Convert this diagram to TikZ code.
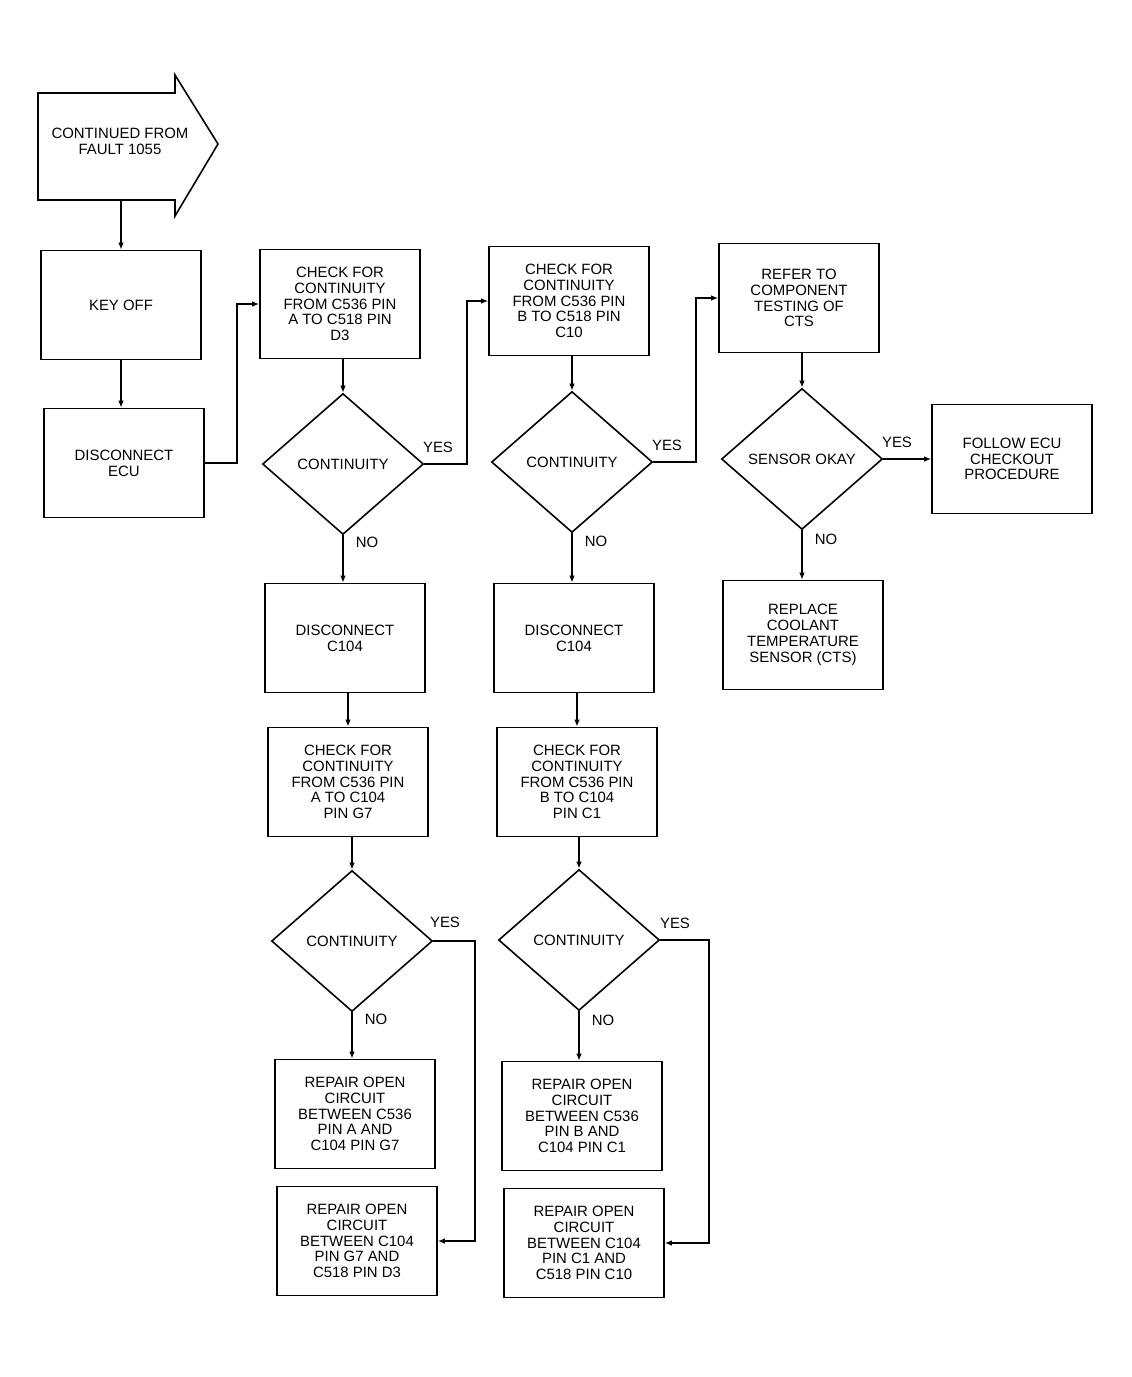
\documentclass[tikz,border=0pt]{standalone}
\usepackage{fontspec}
\setmainfont{Liberation Sans}
\usetikzlibrary{shapes.geometric,arrows.meta,calc}
\tikzset{
  txt/.style={font=\fontsize{8.5}{9}\selectfont},
  box/.style={draw, line width=0.9pt, minimum width=3.2cm, minimum height=2.18cm, inner sep=0pt, align=center, txt},
  test/.style={draw, diamond, line width=0.9pt, minimum width=3.22cm, minimum height=2.82cm, inner sep=0pt, aspect=1.14, txt},
  arrow/.style={-{Latex[length=1.4mm,width=1.1mm]}, line width=0.9pt},
  lbl/.style={inner sep=1pt, txt}
}

\begin{document}
\begin{tikzpicture}[x=0.02cm, y=-0.02cm]
  \useasboundingbox (0,0) rectangle (1132,1377);
  % entry arrow
  \draw[line width=0.9pt] (38,93) -- (175,93) -- (175,75) -- (218,144) -- (175,216) -- (175,200) -- (38,200) -- cycle;
  \node[txt, align=center] (cont) at (120,141) {CONTINUED FROM\\FAULT 1055};
  \coordinate (contout) at (121,200);

  % left column
  \node[box] (keyoff) at (121,305) {KEY OFF};
  \node[box] (discecu) at (124,463) {DISCONNECT\\ECU};

  % C536 pin A
  \node[box] (chkA) at (340,304) {CHECK FOR\\CONTINUITY\\FROM C536 PIN\\A TO C518 PIN\\D3};
  \node[test] (dA1) at (343,464) {CONTINUITY};
  \node[box] (dscA) at (345,638) {DISCONNECT\\C104};
  \node[box] (chkAG) at (348,782) {CHECK FOR\\CONTINUITY\\FROM C536 PIN\\A TO C104\\PIN G7};
  \node[test] (dA2) at (352,941) {CONTINUITY};
  \node[box] (repA1) at (355,1114) {REPAIR OPEN\\CIRCUIT\\BETWEEN C536\\PIN A AND\\C104 PIN G7};
  \node[box] (repA2) at (357,1241) {REPAIR OPEN\\CIRCUIT\\BETWEEN C104\\PIN G7 AND\\C518 PIN D3};

  % C536 pin B
  \node[box] (chkB) at (569,301) {CHECK FOR\\CONTINUITY\\FROM C536 PIN\\B TO C518 PIN\\C10};
  \node[test] (dB1) at (572,462) {CONTINUITY};
  \node[box] (dscB) at (574,638) {DISCONNECT\\C104};
  \node[box] (chkBC) at (577,782) {CHECK FOR\\CONTINUITY\\FROM C536 PIN\\B TO C104\\PIN C1};
  \node[test] (dB2) at (579,940) {CONTINUITY};
  \node[box] (repB1) at (582,1116) {REPAIR OPEN\\CIRCUIT\\BETWEEN C536\\PIN B AND\\C104 PIN C1};
  \node[box] (repB2) at (584,1243) {REPAIR OPEN\\CIRCUIT\\BETWEEN C104\\PIN C1 AND\\C518 PIN C10};

  % sensor
  \node[box] (refer) at (799,298) {REFER TO\\COMPONENT\\TESTING OF\\CTS};
  \node[test] (dS) at (802,459) {SENSOR OKAY};
  \node[box] (follow) at (1012,459) {FOLLOW ECU\\CHECKOUT\\PROCEDURE};
  \node[box] (replace) at (803,635) {REPLACE\\COOLANT\\TEMPERATURE\\SENSOR (CTS)};

  % yes / no
  \node[lbl] (yA1) at (438,447) {YES};
  \node[lbl] (nA1) at (367,542) {NO};
  \node[lbl] (yB1) at (667,445) {YES};
  \node[lbl] (nB1) at (596,541) {NO};
  \node[lbl] (yA2) at (445,922) {YES};
  \node[lbl] (nA2) at (376,1019) {NO};
  \node[lbl] (yB2) at (675,923) {YES};
  \node[lbl] (nB2) at (603,1020) {NO};
  \node[lbl] (yS) at (897,442) {YES};
  \node[lbl] (nS) at (826,539) {NO};

  \draw[arrow] (contout) -- (contout |- keyoff.north);
  \draw[arrow] (keyoff.south) -- (keyoff.south |- discecu.north);
  \draw[arrow] (discecu.east) -- ++(32,0) |- (chkA.west);

  \draw[arrow] (dA1.north |- chkA.south) -- (dA1.north);
  \draw[arrow] (dA1.east) -- ++(43,0) |- (chkB.west);
  \draw[arrow] (dA1.south) -- (dA1.south |- dscA.north);
  \draw[arrow] (chkAG.north |- dscA.south) -- (chkAG.north);
  \draw[arrow] (dA2.north |- chkAG.south) -- (dA2.north);
  \draw[arrow] (dA2.south) -- (dA2.south |- repA1.north);
  \draw[arrow] (dA2.east) -- ++(42,0) |- (repA2.east);

  \draw[arrow] (dB1.north |- chkB.south) -- (dB1.north);
  \draw[arrow] (dB1.east) -- ++(43,0) |- (refer.west);
  \draw[arrow] (dB1.south) -- (dB1.south |- dscB.north);
  \draw[arrow] (chkBC.north |- dscB.south) -- (chkBC.north);
  \draw[arrow] (dB2.north |- chkBC.south) -- (dB2.north);
  \draw[arrow] (dB2.south) -- (dB2.south |- repB1.north);
  \draw[arrow] (dB2.east) -- ++(49,0) |- (repB2.east);

  \draw[arrow] (dS.north |- refer.south) -- (dS.north);
  \draw[arrow] (dS.east) -- (follow.west);
  \draw[arrow] (dS.south) -- (dS.south |- replace.north);
\end{tikzpicture}
\end{document}
